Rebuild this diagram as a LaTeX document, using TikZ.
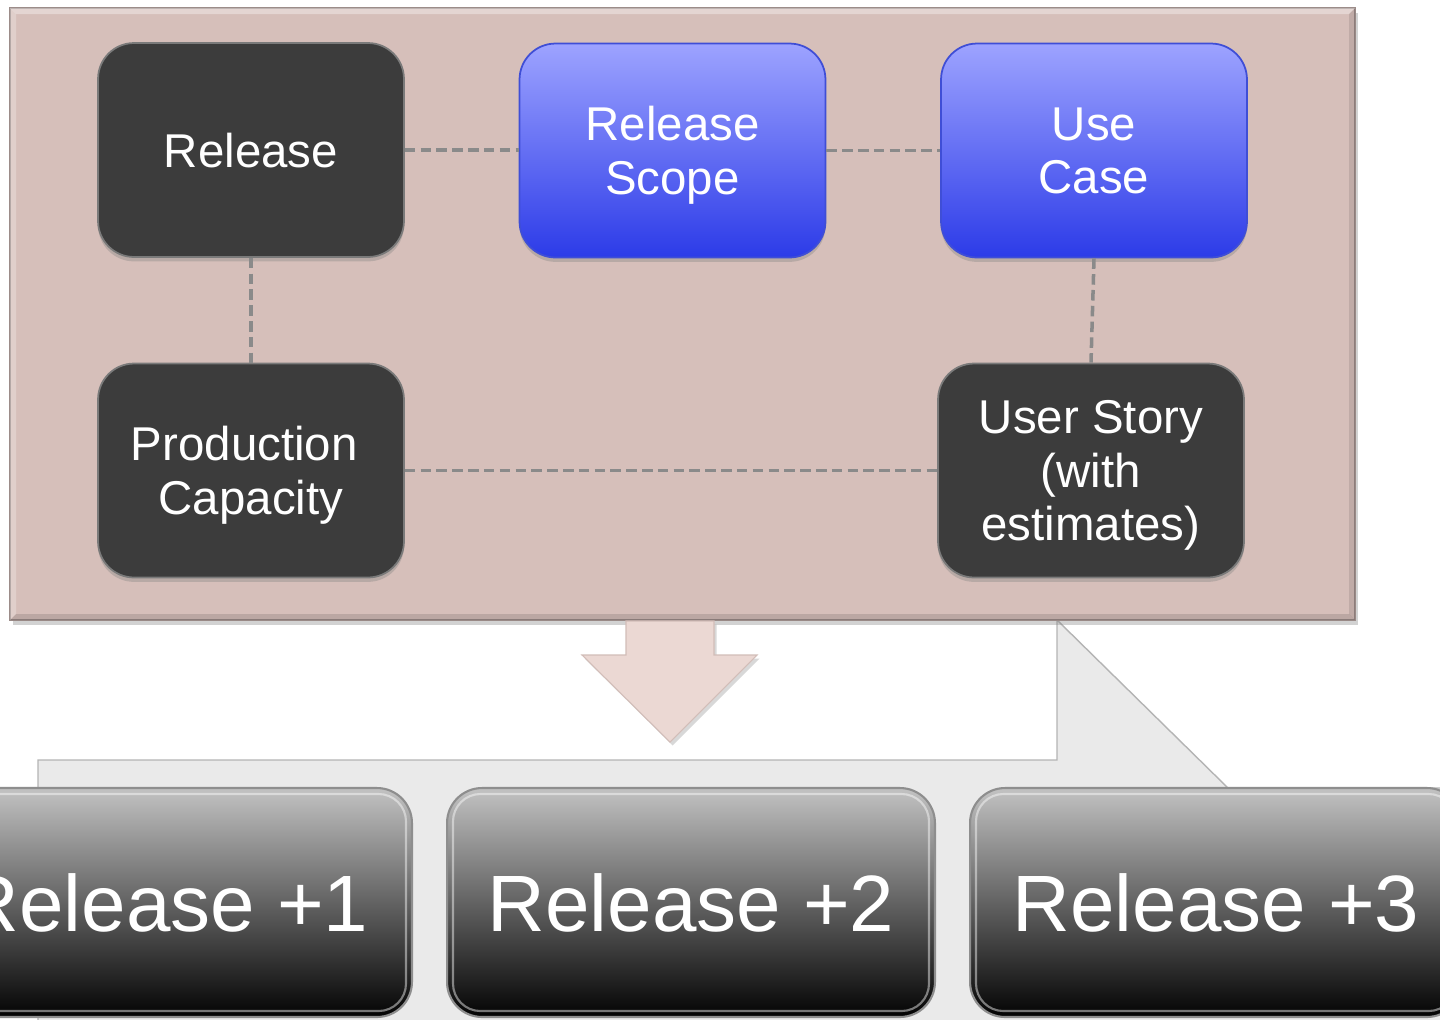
\documentclass[tikz,border=0pt]{standalone}
\usepackage{fontspec}
\setmainfont{Liberation Sans}
\usetikzlibrary{shadows}
\definecolor{boxbg}{HTML}{D6BFBA}
\definecolor{boxline}{HTML}{9C8C89}
\definecolor{darkfill}{HTML}{3C3C3C}
\definecolor{darkline}{HTML}{7A7A7A}
\definecolor{bluetop}{HTML}{9DA3FF}
\definecolor{bluemid}{HTML}{6570F3}
\definecolor{bluebot}{HTML}{2C3BE8}
\definecolor{blueline}{HTML}{3F4ED6}
\definecolor{dashgray}{HTML}{8A8A8A}
\definecolor{callgray}{HTML}{EAEAEA}
\definecolor{callline}{HTML}{B4B4B4}
\definecolor{arrowfill}{HTML}{EBD8D3}
\definecolor{arrowline}{HTML}{D2BDB8}
\definecolor{btntop}{HTML}{C2C2C2}
\definecolor{btnmid}{HTML}{747474}
\definecolor{btnbot}{HTML}{030303}
\definecolor{btnline}{HTML}{8E8E8E}
\tikzset{
  nshadow/.style={drop shadow={shadow xshift=0pt, shadow yshift=-2.5pt, opacity=0.35}},
  cardbase/.style={rounded corners=0.72cm, minimum width=6.12cm, minimum height=4.28cm,
    line width=1pt, text=white, align=center, inner sep=0pt, text depth=0pt,
    font=\fontsize{27}{30.5}\selectfont, nshadow},
  darkbox/.style={cardbase, fill=darkfill, draw=darkline},
  bluebox/.style={cardbase, top color=bluetop, middle color=bluemid, bottom color=bluebot, draw=blueline},
  conn/.style={draw=dashgray, line width=2pt, dash pattern=on 6pt off 3pt},
  btn/.style={rounded corners=0.7cm, minimum height=4.58cm, line width=1.2pt, draw=btnline,
    top color=btntop, middle color=btnmid, bottom color=btnbot, text=white, inner sep=0pt,
    font=\fontsize{45.5}{50}\selectfont},
  btnhi/.style={draw=white, opacity=0.45, line width=1.2pt, rounded corners=0.55cm}
}
\begin{document}
\begin{tikzpicture}[x=0.02cm,y=-0.02cm]
\useasboundingbox (0,0) rectangle (1440,1019);
\clip (0,0) rectangle (1440,1019);
\fill[white] (0,0) rectangle (1440,1019);

% callout background
\draw[fill=callgray, draw=callline, line width=0.8pt]
  (38,1040) -- (38,760) -- (1057,760) -- (1057,620) -- (1228,788) -- (1460,788) -- (1460,1040) -- cycle;

% main box
\draw[fill=boxbg, draw=boxline, line width=0.8pt,
  drop shadow={shadow xshift=1.5pt, shadow yshift=-3pt, opacity=0.35}] (10,8) rectangle (1355,620);
\fill[white, opacity=0.35] (10,8) -- (1355,8) -- (1349,14) -- (16,14) -- cycle;
\fill[white, opacity=0.25] (10,8) -- (16,14) -- (16,614) -- (10,620) -- cycle;
\fill[black, opacity=0.12] (10,620) -- (1355,620) -- (1349,614) -- (16,614) -- cycle;
\fill[black, opacity=0.10] (1355,8) -- (1355,620) -- (1349,614) -- (1349,14) -- cycle;

% nodes
\node[darkbox] (rel) at (251,150) {Release};
\node[bluebox] (scope) at (672.5,150.5) {Release\\Scope};
\node[bluebox] (uc) at (1094,150.5) {Use\\Case};
\node[darkbox] (pc) at (251,470.5) {Production\hspace*{0.28em}\\Capacity};
\node[darkbox] (us) at (1091,470.5) {User Story\\(with\hspace*{0.28em}\\estimates)};

% connectors
\draw[conn] (rel.east) -- (rel.east -| scope.west);
\draw[conn] (scope.east) -- (scope.east -| uc.west);
\draw[conn] (rel.south) -- (pc.north);
\draw[conn] (uc.south) -- (us.north);
\draw[conn] (pc.east) -- (us.west);

% down arrow
\draw[fill=arrowfill, draw=arrowline, line width=0.6pt,
  drop shadow={shadow xshift=1.5pt, shadow yshift=-2pt, opacity=0.3}]
  (626,621) -- (714,621) -- (714,655) -- (757,655) -- (670,742) -- (582,655) -- (626,655) -- cycle;

% release buttons
\node[btn, minimum width=9.88cm] (r1) at (165,902.5) {Release +1};
\node[btn, minimum width=9.76cm] (r2) at (691,902.5) {Release +2};
\node[btn, minimum width=9.84cm] (r3) at (1216,902.5) {Release +3};
\draw[btnhi] ([shift={(7,7)}]r1.north west) rectangle ([shift={(-7,-7)}]r1.south east);
\draw[btnhi] ([shift={(7,7)}]r2.north west) rectangle ([shift={(-7,-7)}]r2.south east);
\draw[btnhi] ([shift={(7,7)}]r3.north west) rectangle ([shift={(-7,-7)}]r3.south east);
\end{tikzpicture}
\end{document}
